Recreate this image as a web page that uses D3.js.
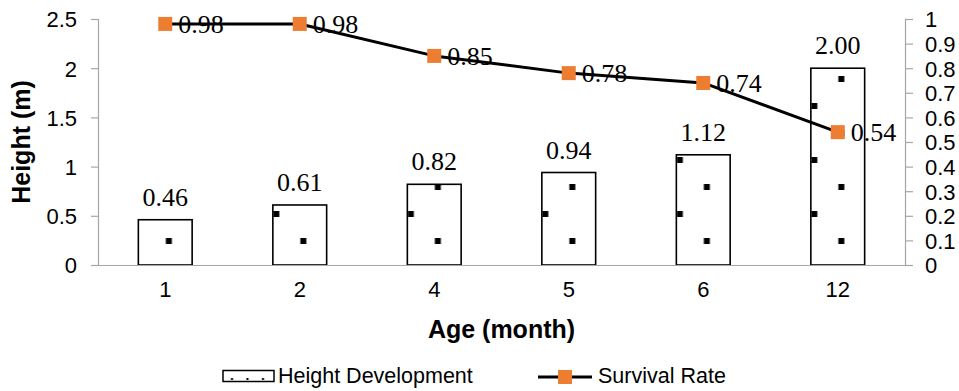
<!DOCTYPE html>
<html>
<head>
<meta charset="utf-8">
<script src="https://cdn.jsdelivr.net/npm/d3@7"></script>
<style>
  html, body { margin: 0; padding: 0; background: #fff; }
  svg { display: block; }
  .tick-label { font-family: "Liberation Sans", Arial, sans-serif; font-size: 22px; fill: #000; }
  .axis-title { font-family: "Liberation Sans", Arial, sans-serif; font-size: 25px; font-weight: bold; fill: #000; }
  .value-label { font-family: "Liberation Serif", "Times New Roman", serif; font-size: 26px; fill: #000; }
  .legend-label { font-family: "Liberation Sans", Arial, sans-serif; font-size: 21.5px; fill: #000; }
</style>
</head>
<body>
<svg id="chart" width="959" height="391"></svg>
<script>
// Seedling age categories (months)
const ages = ["1", "2", "4", "5", "6", "12"];
// Mean height per age (m)
const heights = [0.46, 0.61, 0.82, 0.94, 1.12, 2.00];
// Survival rate per age (fraction)
const survival = [0.98, 0.98, 0.85, 0.78, 0.74, 0.54];
// Axis tick values
const heightTicks = [0, 0.5, 1, 1.5, 2, 2.5];
const heightTickLabels = ["0", "0.5", "1", "1.5", "2", "2.5"];
const survivalTicks = [0, 0.1, 0.2, 0.3, 0.4, 0.5, 0.6, 0.7, 0.8, 0.9, 1];
const survivalTickLabels = ["0", "0.1", "0.2", "0.3", "0.4", "0.5", "0.6", "0.7", "0.8", "0.9", "1"];
const seriesNames = ["Height Development", "Survival Rate"];

const svg = d3.select("#chart");
const plot = { left: 98, right: 905, top: 19, bottom: 265 };
const orange = "#ED7D31";
const axisGray = "#a6a6a6";

const x = d3.scaleBand().domain(ages).range([plot.left, plot.right])
  .paddingInner(0.6).paddingOuter(0.3);
const yL = d3.scaleLinear().domain([0, 2.5]).range([plot.bottom, plot.top]);
const yR = d3.scaleLinear().domain([0, 1]).range([plot.bottom, plot.top]);
const cx = a => x(a) + x.bandwidth() / 2;

const defs = svg.append("defs");

// Sparse dotted fill, anchored to each bar's lower-left corner
ages.forEach((a, i) => {
  const p = defs.append("pattern")
    .attr("id", "dots" + i)
    .attr("patternUnits", "userSpaceOnUse")
    .attr("x", x(a)).attr("y", yL(0))
    .attr("width", 54).attr("height", 54);
  p.append("rect").attr("width", 54).attr("height", 54).attr("fill", "#fff");
  p.append("rect").attr("x", 0.5).attr("y", 0).attr("width", 6).attr("height", 6).attr("fill", "#000");
  p.append("rect").attr("x", 27.5).attr("y", 27).attr("width", 6).attr("height", 6).attr("fill", "#000");
});

// Left axis
const gL = svg.append("g").attr("transform", `translate(${plot.left},0)`)
  .call(d3.axisLeft(yL).tickValues(heightTicks).tickSize(7).tickPadding(14)
    .tickFormat((d, i) => heightTickLabels[i]));
gL.select(".domain").attr("stroke", axisGray).attr("stroke-width", 1.2);
gL.selectAll(".tick line").attr("stroke", axisGray).attr("stroke-width", 1.2);
gL.selectAll(".tick text").attr("class", "tick-label").attr("font-family", null).attr("font-size", null).attr("dy", "0.36em");

// Right axis
const gR = svg.append("g").attr("transform", `translate(${plot.right},0)`)
  .call(d3.axisRight(yR).tickValues(survivalTicks).tickSize(8).tickPadding(12)
    .tickFormat((d, i) => survivalTickLabels[i]));
gR.select(".domain").attr("stroke", axisGray).attr("stroke-width", 1.2);
gR.selectAll(".tick line").attr("stroke", axisGray).attr("stroke-width", 1.2);
gR.selectAll(".tick text").attr("class", "tick-label").attr("font-family", null).attr("font-size", null).attr("dy", "0.36em");

// Bars
svg.append("g").selectAll("rect").data(heights).join("rect")
  .attr("x", (d, i) => x(ages[i]))
  .attr("y", d => yL(d))
  .attr("width", x.bandwidth())
  .attr("height", d => yL(0) - yL(d))
  .attr("fill", (d, i) => `url(#dots${i})`)
  .attr("stroke", "#000").attr("stroke-width", 1.6);

// Category axis
const gX = svg.append("g").attr("transform", `translate(0,${plot.bottom})`)
  .call(d3.axisBottom(x).tickSize(0).tickPadding(16));
gX.select(".domain").attr("stroke", axisGray).attr("stroke-width", 1.2);
gX.selectAll(".tick text").attr("class", "tick-label").attr("font-family", null).attr("font-size", null).attr("dy", "0.71em");

// Bar value labels
svg.append("g").selectAll("text").data(heights).join("text")
  .attr("class", "value-label")
  .attr("x", (d, i) => cx(ages[i]))
  .attr("y", d => yL(d) - 14)
  .attr("text-anchor", "middle")
  .text(d => d.toFixed(2));

// Survival line
const line = d3.line().x((d, i) => cx(ages[i])).y(d => yR(d));
svg.append("path").datum(survival)
  .attr("d", line).attr("fill", "none")
  .attr("stroke", "#000").attr("stroke-width", 3).attr("stroke-linejoin", "round");

svg.append("g").selectAll("rect").data(survival).join("rect")
  .attr("x", (d, i) => cx(ages[i]) - 7)
  .attr("y", d => yR(d) - 7)
  .attr("width", 14).attr("height", 14)
  .attr("fill", orange);

svg.append("g").selectAll("text").data(survival).join("text")
  .attr("class", "value-label")
  .attr("x", (d, i) => cx(ages[i]) + 13)
  .attr("y", d => yR(d) + 9)
  .text(d => d.toFixed(2));

// Axis titles
svg.append("text").attr("class", "axis-title")
  .attr("transform", `translate(30,${(plot.top + plot.bottom) / 2}) rotate(-90)`)
  .attr("text-anchor", "middle").text("Height (m)");
svg.append("text").attr("class", "axis-title")
  .attr("x", (plot.left + plot.right) / 2).attr("y", 338)
  .attr("text-anchor", "middle").text("Age (month)");

// Legend
const lp = defs.append("pattern").attr("id", "legendDots")
  .attr("patternUnits", "userSpaceOnUse").attr("x", 223).attr("y", 370)
  .attr("width", 15.5).attr("height", 12);
lp.append("rect").attr("width", 15.5).attr("height", 12).attr("fill", "#fff");
lp.append("rect").attr("x", 8).attr("y", 8).attr("width", 2).attr("height", 2).attr("fill", "#000");

const legend = svg.append("g");
legend.append("rect").attr("x", 223).attr("y", 370.5).attr("width", 51).attr("height", 11)
  .attr("fill", "url(#legendDots)").attr("stroke", "#000").attr("stroke-width", 1.5);
legend.append("text").attr("class", "legend-label").attr("x", 278).attr("y", 383).text(seriesNames[0]);
legend.append("line").attr("x1", 538).attr("x2", 592).attr("y1", 377).attr("y2", 377)
  .attr("stroke", "#000").attr("stroke-width", 3);
legend.append("rect").attr("x", 558).attr("y", 370).attr("width", 14).attr("height", 14).attr("fill", orange);
legend.append("text").attr("class", "legend-label").attr("x", 598).attr("y", 383).text(seriesNames[1]);
</script>
</body>
</html>
